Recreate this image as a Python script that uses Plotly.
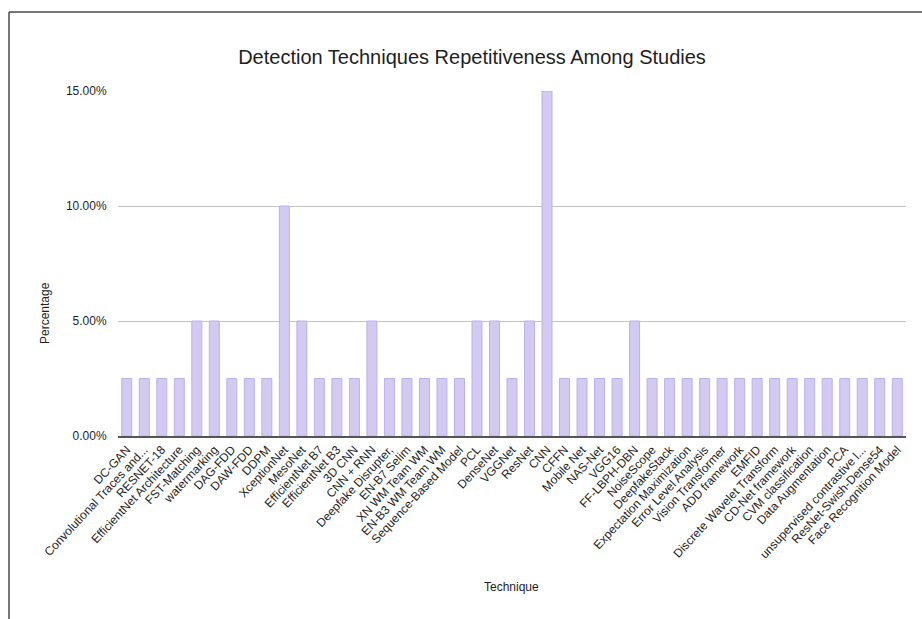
import plotly.graph_objects as go

# Detection techniques and the share of studies that used each one
techniques = [
    "DC-GAN", "Convolutional Traces and...", "RESNET-18", "EfficientNet Architecture",
    "FST-Matching", "watermarking", "DAG-FDD", "DAW-FDD", "DDPM", "XceptionNet",
    "MesoNet", "EfficientNet B7", "EfficientNet B3", "3D CNN", "CNN + RNN",
    "Deepfake Disrupter,", "EN-B7 Selim", "XN WM Team WM", "EN-B3 WM Team WM",
    "Sequence-Based Model", "PCL", "DenseNet", "VGGNet", "ResNet", "CNN", "CFFN",
    "Mobile Net", "NAS-Net", "VGG16", "FF-LBPH-DBN", "NoiseScope", "DeepfakeStack",
    "Expectation Maximization", "Error Level Analysis", "Vision Transformer",
    "ADD framework", "EMFID", "Discrete Wavelet Transform", "CD-Net framework",
    "CVM classification", "Data Augmentation", "PCA", "unsupervised contrastive l...",
    "ResNet-Swish-Dense54", "Face Recognition Model",
]
percentages = [
    0.025, 0.025, 0.025, 0.025, 0.05, 0.05, 0.025, 0.025, 0.025, 0.10,
    0.05, 0.025, 0.025, 0.025, 0.05, 0.025, 0.025, 0.025, 0.025, 0.025,
    0.05, 0.05, 0.025, 0.05, 0.15, 0.025, 0.025, 0.025, 0.025, 0.05,
    0.025, 0.025, 0.025, 0.025, 0.025, 0.025, 0.025, 0.025, 0.025, 0.025,
    0.025, 0.025, 0.025, 0.025, 0.025,
]
y_ticks = [0.0, 0.05, 0.10, 0.15]

FONT = "Liberation Sans, Arial, sans-serif"
TEXT = "#1e1e1e"

fig = go.Figure(
    go.Bar(
        x=techniques,
        y=percentages,
        marker=dict(color="#d2caf1", line=dict(color="#bcb1ea", width=1)),
        hovertemplate="%{x}: %{y:.2%}<extra></extra>",
    )
)

# plot area geometry in pixels, used to place the frame lines and titles
L, R, T, B = 118, 16, 91, 183
W, H = 922, 619
pw, ph = W - L - R, H - T - B


def px_x(x):
    return (x - L) / pw


def px_y(y):
    return (H - B - y) / ph


frame = dict(color="#4a4a4a", width=1.5)
fig.add_shape(type="line", xref="paper", yref="paper",
              x0=px_x(9), x1=px_x(W + 2), y0=px_y(12), y1=px_y(12), line=frame)
fig.add_shape(type="line", xref="paper", yref="paper",
              x0=px_x(9), x1=px_x(9), y0=px_y(12), y1=px_y(H + 2), line=frame)

# axis titles
fig.add_annotation(text="Percentage", xref="paper", yref="paper",
                   x=px_x(45), y=px_y(313), textangle=-90, showarrow=False,
                   xanchor="center", yanchor="middle",
                   font=dict(family=FONT, size=12, color=TEXT))
fig.add_annotation(text="Technique", xref="paper", yref="paper",
                   x=px_x(511), y=px_y(587), showarrow=False,
                   xanchor="center", yanchor="middle",
                   font=dict(family=FONT, size=12, color=TEXT))

fig.update_layout(
    width=W,
    height=H,
    margin=dict(l=L, r=R, t=T, b=B),
    paper_bgcolor="white",
    plot_bgcolor="white",
    bargap=0.43,
    showlegend=False,
    font=dict(family=FONT, color=TEXT, size=12),
    title=dict(
        text="Detection Techniques Repetitiveness Among Studies",
        x=px_x(472), xref="paper", xanchor="center",
        y=1 - 57 / H, yref="container", yanchor="middle",
        font=dict(family=FONT, size=20, color=TEXT),
    ),
    xaxis=dict(
        tickangle=-47,
        tickfont=dict(size=12, color=TEXT),
        showgrid=False,
        showline=True,
        linecolor="#555555",
        linewidth=2,
        ticks="",
        automargin=False,
    ),
    yaxis=dict(
        range=[0, 0.15],
        tickvals=y_ticks,
        tickformat=".2%",
        tickfont=dict(size=12, color=TEXT),
        showgrid=True,
        gridcolor="#c4c4c4",
        gridwidth=1,
        zeroline=False,
        showline=False,
        ticks="outside",
        ticklen=8,
        tickcolor="rgba(0,0,0,0)",
        automargin=False,
    ),
)

fig.write_html("out.html")
